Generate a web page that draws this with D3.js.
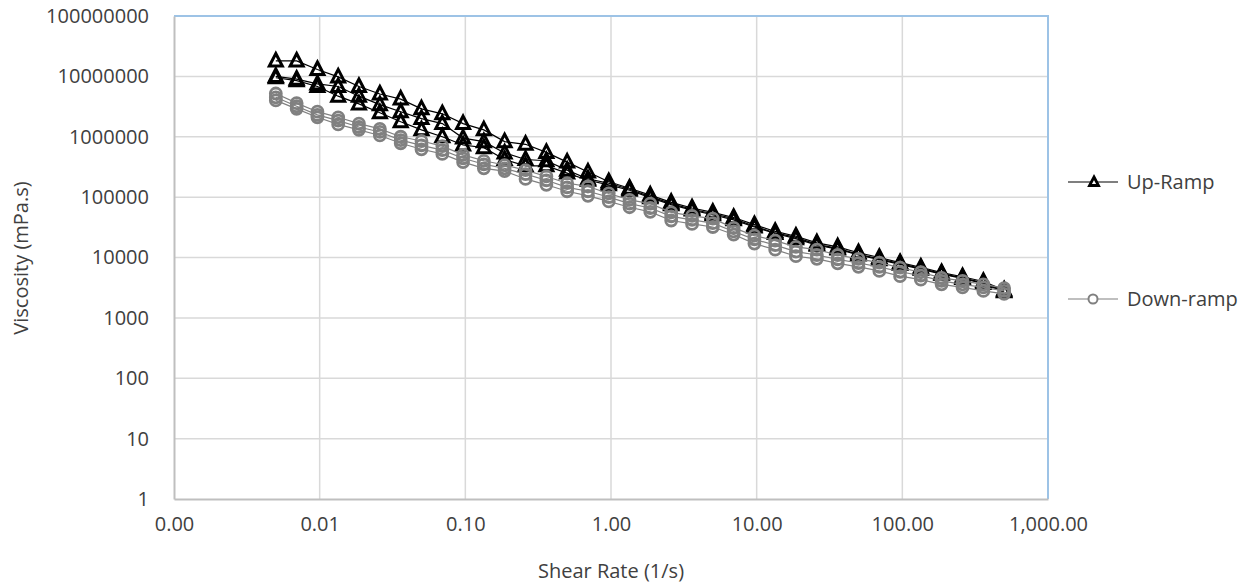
<!DOCTYPE html>
<html>
<head>
<meta charset="utf-8">
<script src="https://cdn.jsdelivr.net/npm/d3@7"></script>
<style>
  html, body { margin: 0; padding: 0; background: #fff; }
  svg text { font-family: "Open Sans", "Liberation Sans", sans-serif; fill: #404040; }
</style>
</head>
<body>
<svg id="chart" width="1254" height="587"></svg>
<script>
// shear rate (1/s), 7 points per decade
var shearRate = [0.005, 0.00695, 0.00965, 0.0134, 0.0186, 0.0259, 0.036, 0.05, 0.0695, 0.0965,
  0.134, 0.186, 0.259, 0.36, 0.5, 0.695, 0.965, 1.34, 1.86, 2.59, 3.6, 5, 6.95, 9.65,
  13.4, 18.6, 25.9, 36, 50, 69.5, 96.5, 134, 186, 259, 360, 500];

// viscosity (mPa.s), up-ramp runs
var up1 = [1.8e7, 1.8e7, 1.3e7, 9.8e6, 6.8e6, 5.1e6, 4.2e6, 2.9e6, 2.4e6, 1.65e6,
  1.3e6, 8.3e5, 7.5e5, 5.5e5, 3.8e5, 2.6e5, 1.8e5, 1.4e5, 1.08e5, 8.2e4,
  6.6e4, 5.6e4, 4.6e4, 3.5e4, 2.7e4, 2.25e4, 1.75e4, 1.5e4, 1.2e4, 1.0e4,
  8.2e3, 6.9e3, 5.6e3, 4.8e3, 4.0e3, 2.9e3];
var up2 = [1.0e7, 9.0e6, 7.5e6, 6.8e6, 4.7e6, 3.4e6, 2.6e6, 2.0e6, 1.65e6, 9.5e5,
  8.3e5, 5.4e5, 4.2e5, 4.0e5, 2.8e5, 2.0e5, 1.7e5, 1.35e5, 1.02e5, 7.8e4,
  6.3e4, 5.3e4, 4.4e4, 3.3e4, 2.55e4, 2.15e4, 1.65e4, 1.42e4, 1.13e4, 9.5e3,
  7.9e3, 6.6e3, 5.4e3, 4.6e3, 3.8e3, 2.8e3];
var up3 = [9.5e6, 8.5e6, 6.8e6, 4.7e6, 3.5e6, 2.5e6, 1.77e6, 1.3e6, 1.0e6, 7.3e5,
  6.6e5, 4.2e5, 3.3e5, 3.3e5, 2.5e5, 1.9e5, 1.6e5, 1.3e5, 9.8e4, 7.5e4,
  6.1e4, 5.1e4, 4.2e4, 3.2e4, 2.5e4, 2.05e4, 1.6e4, 1.38e4, 1.1e4, 9.2e3,
  7.7e3, 6.4e3, 5.3e3, 4.5e3, 3.7e3, 2.7e3];

// viscosity (mPa.s), down-ramp runs
var down1 = [5.2e6, 3.6e6, 2.6e6, 2.1e6, 1.65e6, 1.35e6, 1.0e6, 8.5e5, 7.0e5, 5.0e5,
  4.0e5, 3.4e5, 2.8e5, 2.2e5, 1.7e5, 1.5e5, 1.15e5, 9.0e4, 7.8e4, 5.6e4,
  4.9e4, 4.4e4, 3.1e4, 2.3e4, 1.9e4, 1.5e4, 1.35e4, 1.1e4, 9.5e3, 8.2e3,
  6.8e3, 5.7e3, 4.6e3, 4.1e3, 3.6e3, 3.1e3];
var down2 = [4.5e6, 3.2e6, 2.3e6, 1.85e6, 1.45e6, 1.2e6, 8.8e5, 7.2e5, 6.0e5, 4.4e5,
  3.5e5, 3.0e5, 2.4e5, 1.9e5, 1.45e5, 1.25e5, 1.0e5, 7.8e4, 6.6e4, 4.8e4,
  4.2e4, 3.7e4, 2.7e4, 2.0e4, 1.6e4, 1.25e4, 1.1e4, 9.3e3, 8.1e3, 7.0e3,
  5.8e3, 5.0e3, 4.1e3, 3.6e3, 3.2e3, 2.8e3];
var down3 = [4.0e6, 2.9e6, 2.1e6, 1.6e6, 1.3e6, 1.05e6, 7.8e5, 6.2e5, 5.2e5, 3.8e5,
  3.0e5, 2.7e5, 2.0e5, 1.6e5, 1.25e5, 1.05e5, 8.5e4, 6.8e4, 5.7e4, 4.1e4,
  3.6e4, 3.2e4, 2.4e4, 1.7e4, 1.35e4, 1.05e4, 9.5e3, 8.0e3, 7.0e3, 6.0e3,
  4.9e3, 4.3e3, 3.6e3, 3.2e3, 2.8e3, 2.5e3];

var xTicks = [0.001, 0.01, 0.1, 1, 10, 100, 1000];
var xTickLabels = ["0.00", "0.01", "0.10", "1.00", "10.00", "100.00", "1,000.00"];
var yTicks = [1, 10, 100, 1000, 10000, 100000, 1000000, 10000000, 100000000];
var yTickLabels = ["1", "10", "100", "1000", "10000", "100000", "1000000", "10000000", "100000000"];
var legendNames = ["Up-Ramp", "Down-ramp"];

var svg = d3.select("#chart");
var pLeft = 174, pRight = 1048, pTop = 16, pBottom = 499;

var x = d3.scaleLog().domain([0.001, 1000]).range([pLeft, pRight]);
var y = d3.scaleLog().domain([1, 1e8]).range([pBottom, pTop]);

// gridlines
var grid = svg.append("g");
grid.selectAll("line.h").data(yTicks.slice(1, -1)).enter().append("line")
  .attr("x1", pLeft).attr("x2", pRight)
  .attr("y1", function(d) { return y(d); }).attr("y2", function(d) { return y(d); })
  .attr("stroke", "#d9d9d9").attr("stroke-width", 1.5);
grid.selectAll("line.v").data(xTicks.slice(1, -1)).enter().append("line")
  .attr("y1", pTop).attr("y2", pBottom)
  .attr("x1", function(d) { return x(d); }).attr("x2", function(d) { return x(d); })
  .attr("stroke", "#d9d9d9").attr("stroke-width", 1.5);

// plot-area frame: blue top/right, grey axes left/bottom
svg.append("line").attr("x1", pLeft).attr("x2", pRight + 1).attr("y1", pTop).attr("y2", pTop)
  .attr("stroke", "#9dc3e6").attr("stroke-width", 2);
svg.append("line").attr("x1", pRight).attr("x2", pRight).attr("y1", pTop).attr("y2", pBottom)
  .attr("stroke", "#9dc3e6").attr("stroke-width", 2);

var xAxis = svg.append("g").attr("transform", "translate(0," + pBottom + ")")
  .call(d3.axisBottom(x).tickValues(xTicks).tickSize(0).tickPadding(18)
    .tickFormat(function(d, i) { return xTickLabels[i]; }));
var yAxis = svg.append("g").attr("transform", "translate(" + pLeft + ",0)")
  .call(d3.axisLeft(y).tickValues(yTicks).tickSize(0).tickPadding(25)
    .tickFormat(function(d, i) { return yTickLabels[i]; }));
[xAxis, yAxis].forEach(function(a) {
  a.select(".domain").attr("stroke", "#bfbfbf").attr("stroke-width", 2);
  a.selectAll("text").attr("font-size", 20).attr("fill", "#333")
    .attr("font-family", "\"Open Sans\", \"Liberation Sans\", sans-serif");
});

svg.append("text").attr("x", (pLeft + pRight) / 2).attr("y", 578)
  .attr("text-anchor", "middle").attr("font-size", 20).attr("fill", "#333").text("Shear Rate (1/s)");
svg.append("text").attr("transform", "translate(28,258) rotate(-90)")
  .attr("text-anchor", "middle").attr("font-size", 20).attr("fill", "#333").text("Viscosity (mPa.s)");

var tri = "M0,-7.5L6.5,5L-6.5,5Z";
var line = d3.line()
  .x(function(d) { return x(d[0]); })
  .y(function(d) { return y(d[1]); });

var series = [
  { v: up1, kind: "up" }, { v: up2, kind: "up" }, { v: up3, kind: "up" },
  { v: down1, kind: "down" }, { v: down2, kind: "down" }, { v: down3, kind: "down" }
];

var plot = svg.append("g");
series.forEach(function(s) {
  var pts = shearRate.map(function(r, i) { return [r, s.v[i]]; });
  var g = plot.append("g");
  var col = s.kind === "up" ? "#000" : "#808080";
  g.append("path").datum(pts).attr("d", line)
    .attr("fill", "none").attr("stroke", col).attr("stroke-width", 1.2);
  if (s.kind === "up") {
    g.selectAll("path.m").data(pts).enter().append("path")
      .attr("d", tri)
      .attr("transform", function(d) { return "translate(" + x(d[0]) + "," + y(d[1]) + ")"; })
      .attr("fill", "none").attr("stroke", col).attr("stroke-width", 3);
  } else {
    g.selectAll("circle").data(pts).enter().append("circle")
      .attr("cx", function(d) { return x(d[0]); })
      .attr("cy", function(d) { return y(d[1]); })
      .attr("r", 5.5)
      .attr("fill", "none").attr("stroke", col).attr("stroke-width", 2.8);
  }
});

// legend
var legend = svg.append("g");
var legY = [182, 299];
legendNames.forEach(function(name, i) {
  var col = i === 0 ? "#000" : "#808080";
  legend.append("line").attr("x1", 1068).attr("x2", 1118)
    .attr("y1", legY[i]).attr("y2", legY[i]).attr("stroke", col).attr("stroke-width", 1.2);
  if (i === 0) {
    legend.append("path").attr("d", "M0,-5L4.5,3.5L-4.5,3.5Z")
      .attr("transform", "translate(1094," + legY[i] + ")")
      .attr("fill", "#fff").attr("stroke", col).attr("stroke-width", 2.8);
  } else {
    legend.append("circle").attr("cx", 1093).attr("cy", legY[i]).attr("r", 4.5)
      .attr("fill", "#fff").attr("stroke", col).attr("stroke-width", 2);
  }
  legend.append("text").attr("x", 1127).attr("y", legY[i]).attr("dy", "0.35em")
    .attr("font-size", 20).attr("fill", "#333").text(name);
});
</script>
</body>
</html>
